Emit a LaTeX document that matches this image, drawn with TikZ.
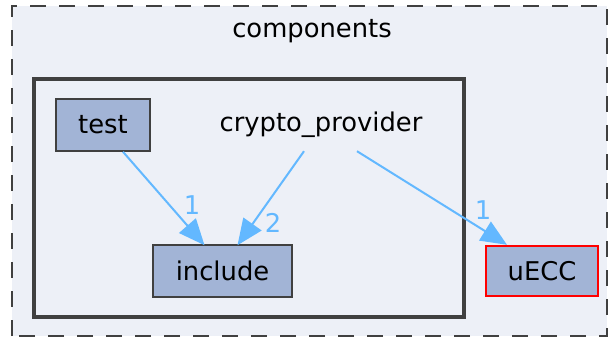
\documentclass[tikz,border=0pt]{standalone}
\usepackage{fontspec}
\setmainfont{DejaVu Sans}
\usetikzlibrary{arrows.meta,calc}
\definecolor{clusterfill}{HTML}{EDF0F7}
\definecolor{nodefill}{HTML}{A2B4D6}
\definecolor{edgecol}{HTML}{63B8FF}
\definecolor{bordercol}{HTML}{404040}
\tikzset{
  dirbox/.style={draw=bordercol, line width=1.6pt, fill=nodefill, inner sep=0pt, font=\fontsize{25.8}{30}\selectfont},
  edge/.style={draw=edgecol, line width=2pt, -{Triangle[length=26pt,width=22pt]}},
  elabel/.style={text=edgecol, font=\fontsize{25.8}{30}\selectfont, inner sep=0pt},
  plainlabel/.style={font=\fontsize{25.8}{30}\selectfont, inner sep=0pt},
}
\begin{document}
\begin{tikzpicture}[x=1pt,y=-1pt]
\useasboundingbox (0,0) rectangle (608,338);
% outer cluster
\path[fill=clusterfill] (12,6) rectangle (607,336);
\draw[bordercol, line width=1.8pt, dash pattern=on 16pt off 13pt] (12,336) -- (12,6) -- (607,6) -- (607,336) -- cycle;
\node[plainlabel, anchor=base] (components) at (312,37) {components};
% inner cluster
\draw[bordercol, line width=3.6pt, fill=clusterfill] (34,79) rectangle (464,317);
\node[plainlabel, minimum width=230pt, minimum height=52pt] (crypto) at (321,125) {crypto\_provider};
% nodes
\node[dirbox, minimum width=94pt, minimum height=52pt] (test) at (103,125) {test};
\node[dirbox, minimum width=139pt, minimum height=52pt] (include) at (222.5,271) {include};
\node[dirbox, draw=red, line width=2.4pt, minimum width=112pt, minimum height=50pt] (uecc) at (542,271) {uECC};
% edges
\draw[edge] ($(test.south)+(20,0)$) -- ($(include.north)+(-18,1)$);
\draw[edge] ($(crypto.south)+(-17,0)$) -- ($(include.north)+(15,1)$);
\draw[edge] ($(crypto.south)+(36,0)$) -- ($(uecc.north)+(-35,0)$);
% edge labels
\node[elabel] (l1) at (192,205) {1};
\node[elabel] (l2) at (273,223) {2};
\node[elabel] (l3) at (483,210) {1};
\end{tikzpicture}
\end{document}
